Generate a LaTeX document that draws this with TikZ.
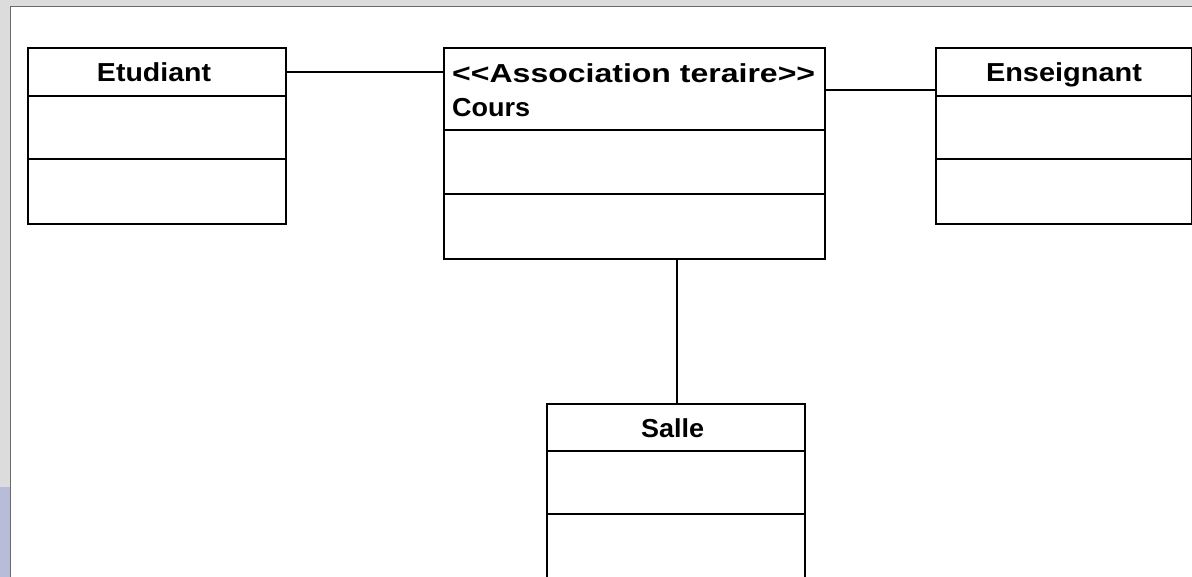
\documentclass[tikz,border=0pt]{standalone}
\usepackage{fontspec}
\setmainfont{Liberation Sans}[Ligatures=NoCommon]
\definecolor{framegray}{HTML}{DCDCDC}
\definecolor{frameline}{HTML}{6A6A6A}
\definecolor{frameblue}{HTML}{B8BCD8}
\newcommand{\fitw}[2]{\resizebox{#1}{\height}{#2}}
\begin{document}
\begin{tikzpicture}[x=1pt,y=-1pt,
  classbox/.style={draw=black,line width=1.6pt,rectangle,inner sep=0pt,anchor=north west},
  title/.style={font=\fontsize{26}{30}\selectfont\bfseries,inner sep=0pt,anchor=base},
  link/.style={draw=black,line width=1.3pt}]
\useasboundingbox (0,0) rectangle (1192,577);
\clip (0,0) rectangle (1192,577);
% window frame
\fill[framegray] (0,0) rectangle (1192,7);
\fill[framegray] (0,0) rectangle (11,577);
\fill[frameblue] (0,487) rectangle (10,577);
\draw[frameline,line width=1.2pt] (10.5,577) -- (10.5,6.5) -- (1192,6.5);
% classes
\node[classbox,minimum width=258pt,minimum height=176pt] (etu) at (27,47) {};
\draw[line width=1.6pt] (27,96) -- (285,96) (27,159) -- (285,159);
\node[title] (etut) at (154,82) {\fitw{114pt}{Etudiant}};

\node[classbox,minimum width=381pt,minimum height=211pt] (cours) at (443,47) {};
\draw[line width=1.6pt] (443,130) -- (824,130) (443,194) -- (824,194);
\node[title,anchor=base west] (coursst) at (452,83) {\fitw{363pt}{{<}{<}Association teraire{>}{>}}};
\node[title,anchor=base west] (courst) at (452,117) {\fitw{78pt}{Cours}};

\node[classbox,minimum width=256pt,minimum height=176pt] (ens) at (935,47) {};
\draw[line width=1.6pt] (935,96) -- (1191,96) (935,159) -- (1191,159);
\node[title] (enst) at (1064,82) {\fitw{156pt}{Enseignant}};

\node[classbox,minimum width=258pt,minimum height=180pt] (salle) at (546,403) {};
\draw[line width=1.6pt] (546,451) -- (804,451) (546,514) -- (804,514);
\node[title] (sallet) at (672.5,437) {\fitw{63pt}{Salle}};

% connectors
\coordinate (ya) at (0,72);
\coordinate (yb) at (0,90);
\coordinate (xc) at (677,0);
\draw[link] (etu.east |- ya) -- (cours.west |- ya);
\draw[link] (cours.east |- yb) -- (ens.west |- yb);
\draw[link] (cours.south -| xc) -- (salle.north -| xc);
\end{tikzpicture}
\end{document}
